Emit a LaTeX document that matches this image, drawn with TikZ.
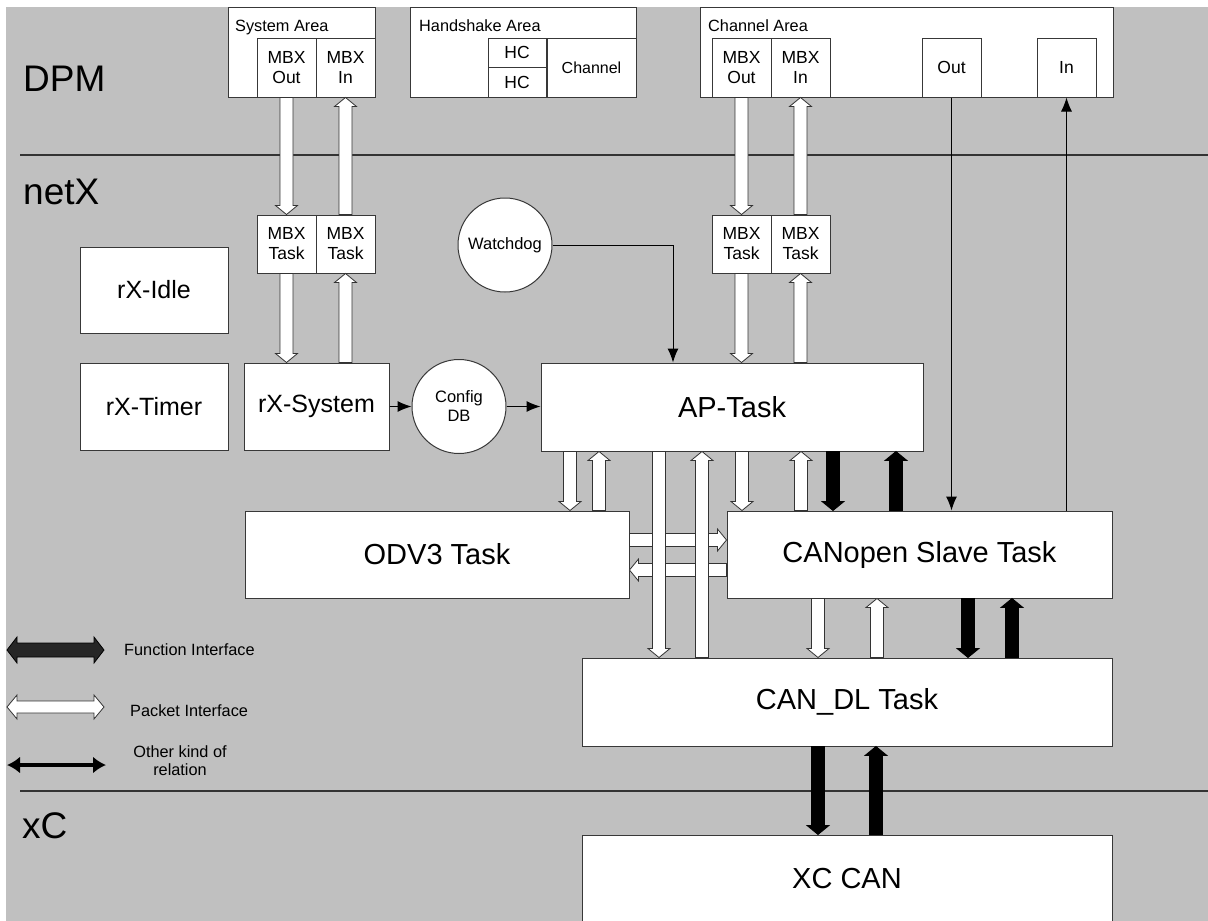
\documentclass[tikz,border=0pt]{standalone}
\usepackage{fontspec}
\setmainfont{Liberation Sans}
\usetikzlibrary{calc,arrows.meta}
\newcommand\bkSW{6.5pt}
\newcommand\bkHW{11pt}
\newcommand\bkHL{9pt}
% vertical block arrow: [style]{x}{from}{to}
\newcommand\vblk[4][pk]{%
 \path[#1] let \p1=(#3), \p2=(#4), \n1={(\y2<\y1)*2-1} in
  ({#2pt-\bkSW},\y1) -- ({#2pt-\bkSW},{\y2+(\n1)*\bkHL}) -- ({#2pt-\bkHW},{\y2+(\n1)*\bkHL}) -- (#2pt,\y2)
  -- ({#2pt+\bkHW},{\y2+(\n1)*\bkHL}) -- ({#2pt+\bkSW},{\y2+(\n1)*\bkHL}) -- ({#2pt+\bkSW},\y1) -- cycle;}
% horizontal block arrow: [style]{y}{from}{to}
\newcommand\hblk[4][pk]{%
 \path[#1] let \p1=(#3), \p2=(#4), \n1={(\x2<\x1)*2-1} in
  (\x1,{#2pt-\bkSW}) -- ({\x2+(\n1)*\bkHL},{#2pt-\bkSW}) -- ({\x2+(\n1)*\bkHL},{#2pt-\bkHW}) -- (\x2,#2pt)
  -- ({\x2+(\n1)*\bkHL},{#2pt+\bkHW}) -- ({\x2+(\n1)*\bkHL},{#2pt+\bkSW}) -- (\x1,{#2pt+\bkSW}) -- cycle;}
\begin{document}
\begin{tikzpicture}[x=1pt,y=1pt,
  wh/.style 2 args={minimum width=#1pt, minimum height=#2pt},
  box/.style={draw=black!78, fill=white, line width=1pt, inner sep=0pt, align=center, font=\fontsize{16}{20}\selectfont},
  mbx/.style={box, font=\fontsize{17.5}{20}\selectfont},
  big/.style={box, font=\fontsize{29}{32}\selectfont},
  mid/.style={box, font=\fontsize{25}{30}\selectfont},
  circ/.style={circle, draw=black!78, fill=white, line width=1pt, inner sep=0pt, minimum size=94pt, align=center, font=\fontsize{16.5}{19}\selectfont},
  lane/.style={font=\fontsize{37}{40}\selectfont, anchor=base west, inner sep=0pt},
  small/.style={font=\fontsize{16.3}{18}\selectfont, inner sep=0pt, align=center},
  pk/.style={draw=black!80, fill=white, line width=0.8pt},
  fn/.style={draw=black, fill=black, line width=0.8pt},
  rel/.style={draw=black, line width=1pt, -{Latex[length=14pt,width=11pt]}},
  sep/.style={draw=black!80, line width=1.3pt}
]
\useasboundingbox (0,0) rectangle (1208,-921);
\fill[fill={rgb,255:red,192;green,192;blue,192}] (6,-7) rectangle (1208,-921);

% lanes
\draw[sep] (20,-155) -- (1208,-155);
\draw[sep] (20,-791) -- (1208,-791);
\node[lane] (dpm) at (23,-91) {DPM};
\node[lane] (netx) at (23,-204) {netX};
\node[lane] (xcl) at (22,-838) {xC};

% DPM
\node[box, wh={147}{90}] (sysA) at (301.5,-52) {};
\node[small, anchor=base west] (sysAt) at (235,-31) {System Area};
\node[mbx, wh={59}{59}] (mbxso) at (286.5,-67.5) {MBX\\Out};
\node[mbx, wh={59}{59}] (mbxsi) at (345.5,-67.5) {MBX\\In};

\node[box, wh={226}{90}] (hsA) at (523,-52) {};
\node[small, anchor=base west] (hsAt) at (419,-31) {Handshake Area};
\node[mbx, wh={58}{29.5}] (hc1) at (517,-52.75) {HC};
\node[mbx, wh={58}{29.5}] (hc2) at (517,-82.25) {HC};
\node[box, wh={89}{59}] (chan) at (591.5,-67.5) {Channel};

\node[box, wh={413}{90}] (chA) at (906.5,-52) {};
\node[small, anchor=base west] (chAt) at (708,-31) {Channel Area};
\node[mbx, wh={59}{59}] (mbxco) at (741.5,-67.5) {MBX\\Out};
\node[mbx, wh={59}{59}] (mbxci) at (800.5,-67.5) {MBX\\In};
\node[mbx, wh={59}{59}] (outb) at (951.5,-67.5) {Out};
\node[mbx, wh={59}{59}] (inb) at (1066.5,-67.5) {In};

% netX
\node[mbx, wh={59}{58}] (mts1) at (286.5,-244) {MBX\\Task};
\node[mbx, wh={59}{58}] (mts2) at (345.5,-244) {MBX\\Task};
\node[mbx, wh={59}{58}] (mtc1) at (741.5,-244) {MBX\\Task};
\node[mbx, wh={59}{58}] (mtc2) at (800.5,-244) {MBX\\Task};
\node[circ] (wd) at (505,-245) {Watchdog};
\node[mid, wh={148}{86}] (idle) at (154,-290) {rX-Idle};
\node[mid, wh={148}{87}] (timer) at (154,-406.5) {rX-Timer};
\node[mid, wh={145}{87}] (rxs) at (316.5,-406.5) {rX-System};
\node[circ] (cfg) at (459,-406.5) {Config\\DB};
\node[big, wh={382}{88}] (ap) at (732,-407) {AP-Task};
\node[big, wh={384}{87}] (odv) at (437,-554.5) {ODV3 Task};
\node[big, wh={385}{87}] (cano) at (919.5,-554.5) {CANopen Slave Task};
\node[big, wh={530}{88}] (cdl) at (847,-702) {CAN\_DL Task};
\node[big, wh={530}{88}] (xc) at (847,-879) {XC CAN};

% other relations
\draw[rel] (rxs.east) -- (cfg.west);
\draw[rel] (cfg.east) -- (cfg.east -| ap.west);
\coordinate (wdk) at (673,-245);
\draw[rel] (wd.east) -- (wdk) -- (wdk |- ap.north);
\draw[rel] (outb.south) -- (outb.south |- cano.north);
\draw[rel] (inb.south |- cano.north) -- (inb.south);

% packet interfaces
\vblk{286.5}{mbxso.south}{mts1.north}
\vblk{345.5}{mts2.north}{mbxsi.south}
\vblk{286.5}{mts1.south}{rxs.north}
\vblk{345.5}{rxs.north}{mts2.south}
\vblk{741.5}{mbxco.south}{mtc1.north}
\vblk{800.5}{mtc2.north}{mbxci.south}
\vblk{741.5}{mtc1.south}{ap.north}
\vblk{800.5}{ap.north}{mtc2.south}
\vblk{570}{ap.south}{odv.north}
\vblk{599}{odv.north}{ap.south}
\hblk{-540}{odv.east}{cano.west}
\hblk{-570}{cano.west}{odv.east}
\vblk{659}{ap.south}{cdl.north}
\vblk{702}{cdl.north}{ap.south}
\vblk{742}{ap.south}{cano.north}
\vblk{801}{cano.north}{ap.south}
\vblk{818}{cano.south}{cdl.north}
\vblk{877}{cdl.north}{cano.south}

% function interfaces
\vblk[fn]{833}{ap.south}{cano.north}
\vblk[fn]{896}{cano.north}{ap.south}
\vblk[fn]{968}{cano.south}{cdl.north}
\vblk[fn]{1012}{cdl.north}{cano.south}
\vblk[fn]{818}{cdl.south}{xc.north}
\vblk[fn]{876}{xc.north}{cdl.south}

% legend
\path[draw=black, fill=black!85, line width=0.8pt] (7,-650) -- (17,-637) -- (17,-643) -- (94,-643) -- (94,-637) -- (104,-650)
  -- (94,-663) -- (94,-657) -- (17,-657) -- (17,-663) -- cycle;
\node[small, anchor=west] (lfn) at (124,-650) {Function Interface};
\path[pk] (7,-707) -- (17,-695) -- (17,-701) -- (94,-701) -- (94,-695) -- (104,-707)
  -- (94,-719) -- (94,-713) -- (17,-713) -- (17,-719) -- cycle;
\node[small, anchor=west] (lpk) at (130,-711) {Packet Interface};
\coordinate (lr1) at (7,-765);
\coordinate (lr2) at (106,-765);
\draw[line width=4.5pt, {Latex[length=13pt,width=17pt]}-{Latex[length=13pt,width=17pt]}] (lr1) -- (lr2);
\node[small] (lrel) at (180,-761) {Other kind of\\relation};
\end{tikzpicture}
\end{document}
